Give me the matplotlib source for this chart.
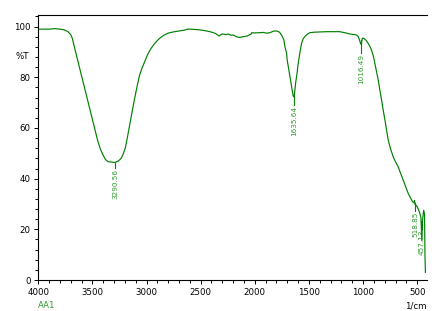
import matplotlib
matplotlib.use("Agg")
import matplotlib.pyplot as plt
from matplotlib.ticker import MultipleLocator
import matplotlib.transforms as mtrans

# ---- data ----
wavenumber = [4000, 3950, 3900, 3850, 3800, 3760, 3726, 3700, 3686, 3664, 3633, 3610, 3587,
              3565, 3541, 3518, 3495, 3472, 3449, 3425, 3402, 3380, 3356, 3320, 3291, 3260,
              3234, 3215, 3197, 3176, 3156, 3133, 3110, 3087, 3064, 3040, 3017, 2990, 2957,
              2920, 2879, 2840, 2802, 2784, 2740, 2692, 2650, 2620, 2599, 2560, 2507, 2460,
              2415, 2368, 2345, 2331, 2310, 2292, 2270, 2246, 2220, 2199, 2170, 2138, 2115,
              2091, 2070, 2052, 2035, 2029, 2000, 1953, 1920, 1891, 1860, 1830, 1799, 1780,
              1768, 1753, 1731, 1722, 1706, 1701, 1676, 1660, 1645, 1636, 1623, 1610, 1599,
              1583, 1568, 1553, 1537, 1515, 1491, 1450, 1400, 1337, 1290, 1245, 1214, 1170,
              1122, 1090, 1060, 1045, 1038, 1028, 1022, 1016, 1012, 1007, 992, 975, 953, 938,
              922, 905, 891, 875, 860, 845, 829, 814, 798, 783, 768, 745, 722, 700, 676, 653,
              630, 607, 583, 560, 543, 530, 525, 519, 510, 500, 490, 475, 465, 457, 452, 447,
              440, 432, 428, 424]
transmittance = [99.0, 99.0, 99.0, 99.2, 99.0, 98.7, 98.0, 96.8, 95.4, 91.5, 86.2, 82.2, 78.3,
                 74.4, 70.4, 66.5, 62.5, 58.5, 54.6, 51.5, 49.3, 47.6, 46.7, 46.5, 46.4, 47.0,
                 48.0, 49.8, 52.0, 56.5, 61.2, 66.5, 71.7, 76.5, 80.9, 83.8, 86.2, 89.0, 91.5,
                 93.6, 95.4, 96.6, 97.4, 97.6, 98.0, 98.3, 98.6, 99.0, 99.0, 98.9, 98.7, 98.4,
                 98.0, 97.4, 96.8, 96.3, 96.9, 97.1, 96.8, 97.1, 96.6, 96.7, 96.0, 95.7, 96.0,
                 96.1, 96.3, 96.7, 97.0, 97.6, 97.5, 97.6, 97.7, 97.4, 97.6, 98.2, 98.3, 98.0,
                 97.6, 96.7, 94.7, 92.1, 89.5, 86.9, 80.3, 76.3, 72.6, 72.2, 77.7, 81.5, 85.5,
                 89.8, 93.4, 95.2, 96.1, 97.0, 97.6, 97.8, 97.9, 98.0, 98.0, 98.0, 98.0, 97.6,
                 97.1, 96.9, 96.7, 96.1, 95.4, 94.0, 93.2, 93.0, 94.2, 95.4, 95.4, 94.7, 93.4, 92.3,
                 90.8, 88.4, 85.5, 82.4, 79.0, 75.0, 71.1, 67.1, 63.2, 59.2, 55.3, 51.6, 48.7, 46.6,
                 44.7, 42.1, 39.5, 36.8, 34.2, 32.3, 30.9, 30.5, 31.3, 29.8, 29.5, 28.9, 28.0, 26.3,
                 24.5, 15.5, 23.0, 25.0, 27.5, 26.0, 10.0, 3.0]

peak_wn = [3290.56, 1635.64, 1016.49, 518.85, 457.13]
peak_t = [46.2, 72.2, 94.7, 30.4, 23.5]
peak_labels = ["3290.56", "1635.64", "1016.49", "518.85", "457.13"]

x_ticks = [4000, 3500, 3000, 2500, 2000, 1500, 1000, 500]
y_ticks = [0, 20, 40, 60, 80, 100]

# ---- style ----
GREEN = "#008000"
LABEL_GREEN = "#2f9a2f"
leader_len = [2.0, 3.1, 5.1, 3.2, 3.2]

fig = plt.figure(figsize=(4.32, 3.11), dpi=100)
ax = fig.add_axes([38.3 / 432, 31 / 311, (426.7 - 38.3) / 432, (280 - 14.7) / 311])

ax.plot(wavenumber, transmittance, color=GREEN, lw=0.85)

ax.set_xlim(4000, 412)
ax.set_ylim(0, 104.7)
ax.set_xticks(x_ticks)
ax.set_yticks(y_ticks)
ax.xaxis.set_minor_locator(MultipleLocator(100))
ax.yaxis.set_minor_locator(MultipleLocator(4))

for s in ["left", "bottom", "top"]:
    ax.spines[s].set_linewidth(0.8)
    ax.spines[s].set_color("black")
ax.spines["right"].set_visible(False)

ax.tick_params(axis="both", which="major", direction="out", length=3, width=0.7,
               labelsize=6.2, pad=2.5, colors="black")
ax.tick_params(axis="both", which="minor", direction="out", length=2, width=0.7)
ax.tick_params(axis="x", which="both", top=False)
ax.tick_params(axis="y", which="both", right=False)

# %T label on y axis
trans_y = mtrans.blended_transform_factory(ax.transAxes, ax.transData)
ax.text(-0.025, 88.2, "%T", transform=trans_y, ha="right", va="center", fontsize=6.2)

# bottom texts
ax.text(0.0, -0.08, "AA1", transform=ax.transAxes, ha="left", va="top",
        fontsize=6.2, color=LABEL_GREEN)
ax.text(1.0, -0.08, "1/cm", transform=ax.transAxes, ha="right", va="top",
        fontsize=6.2, color="black")

# peak annotations
for wn, t, lab, ll in zip(peak_wn, peak_t, peak_labels, leader_len):
    ax.plot([wn, wn], [t, t - ll], color=GREEN, lw=0.8)
    ax.text(wn, t - ll - 0.4, lab, rotation=90, ha="center", va="top",
            fontsize=5.2, color=LABEL_GREEN)

fig.savefig("out.png", dpi=100)
